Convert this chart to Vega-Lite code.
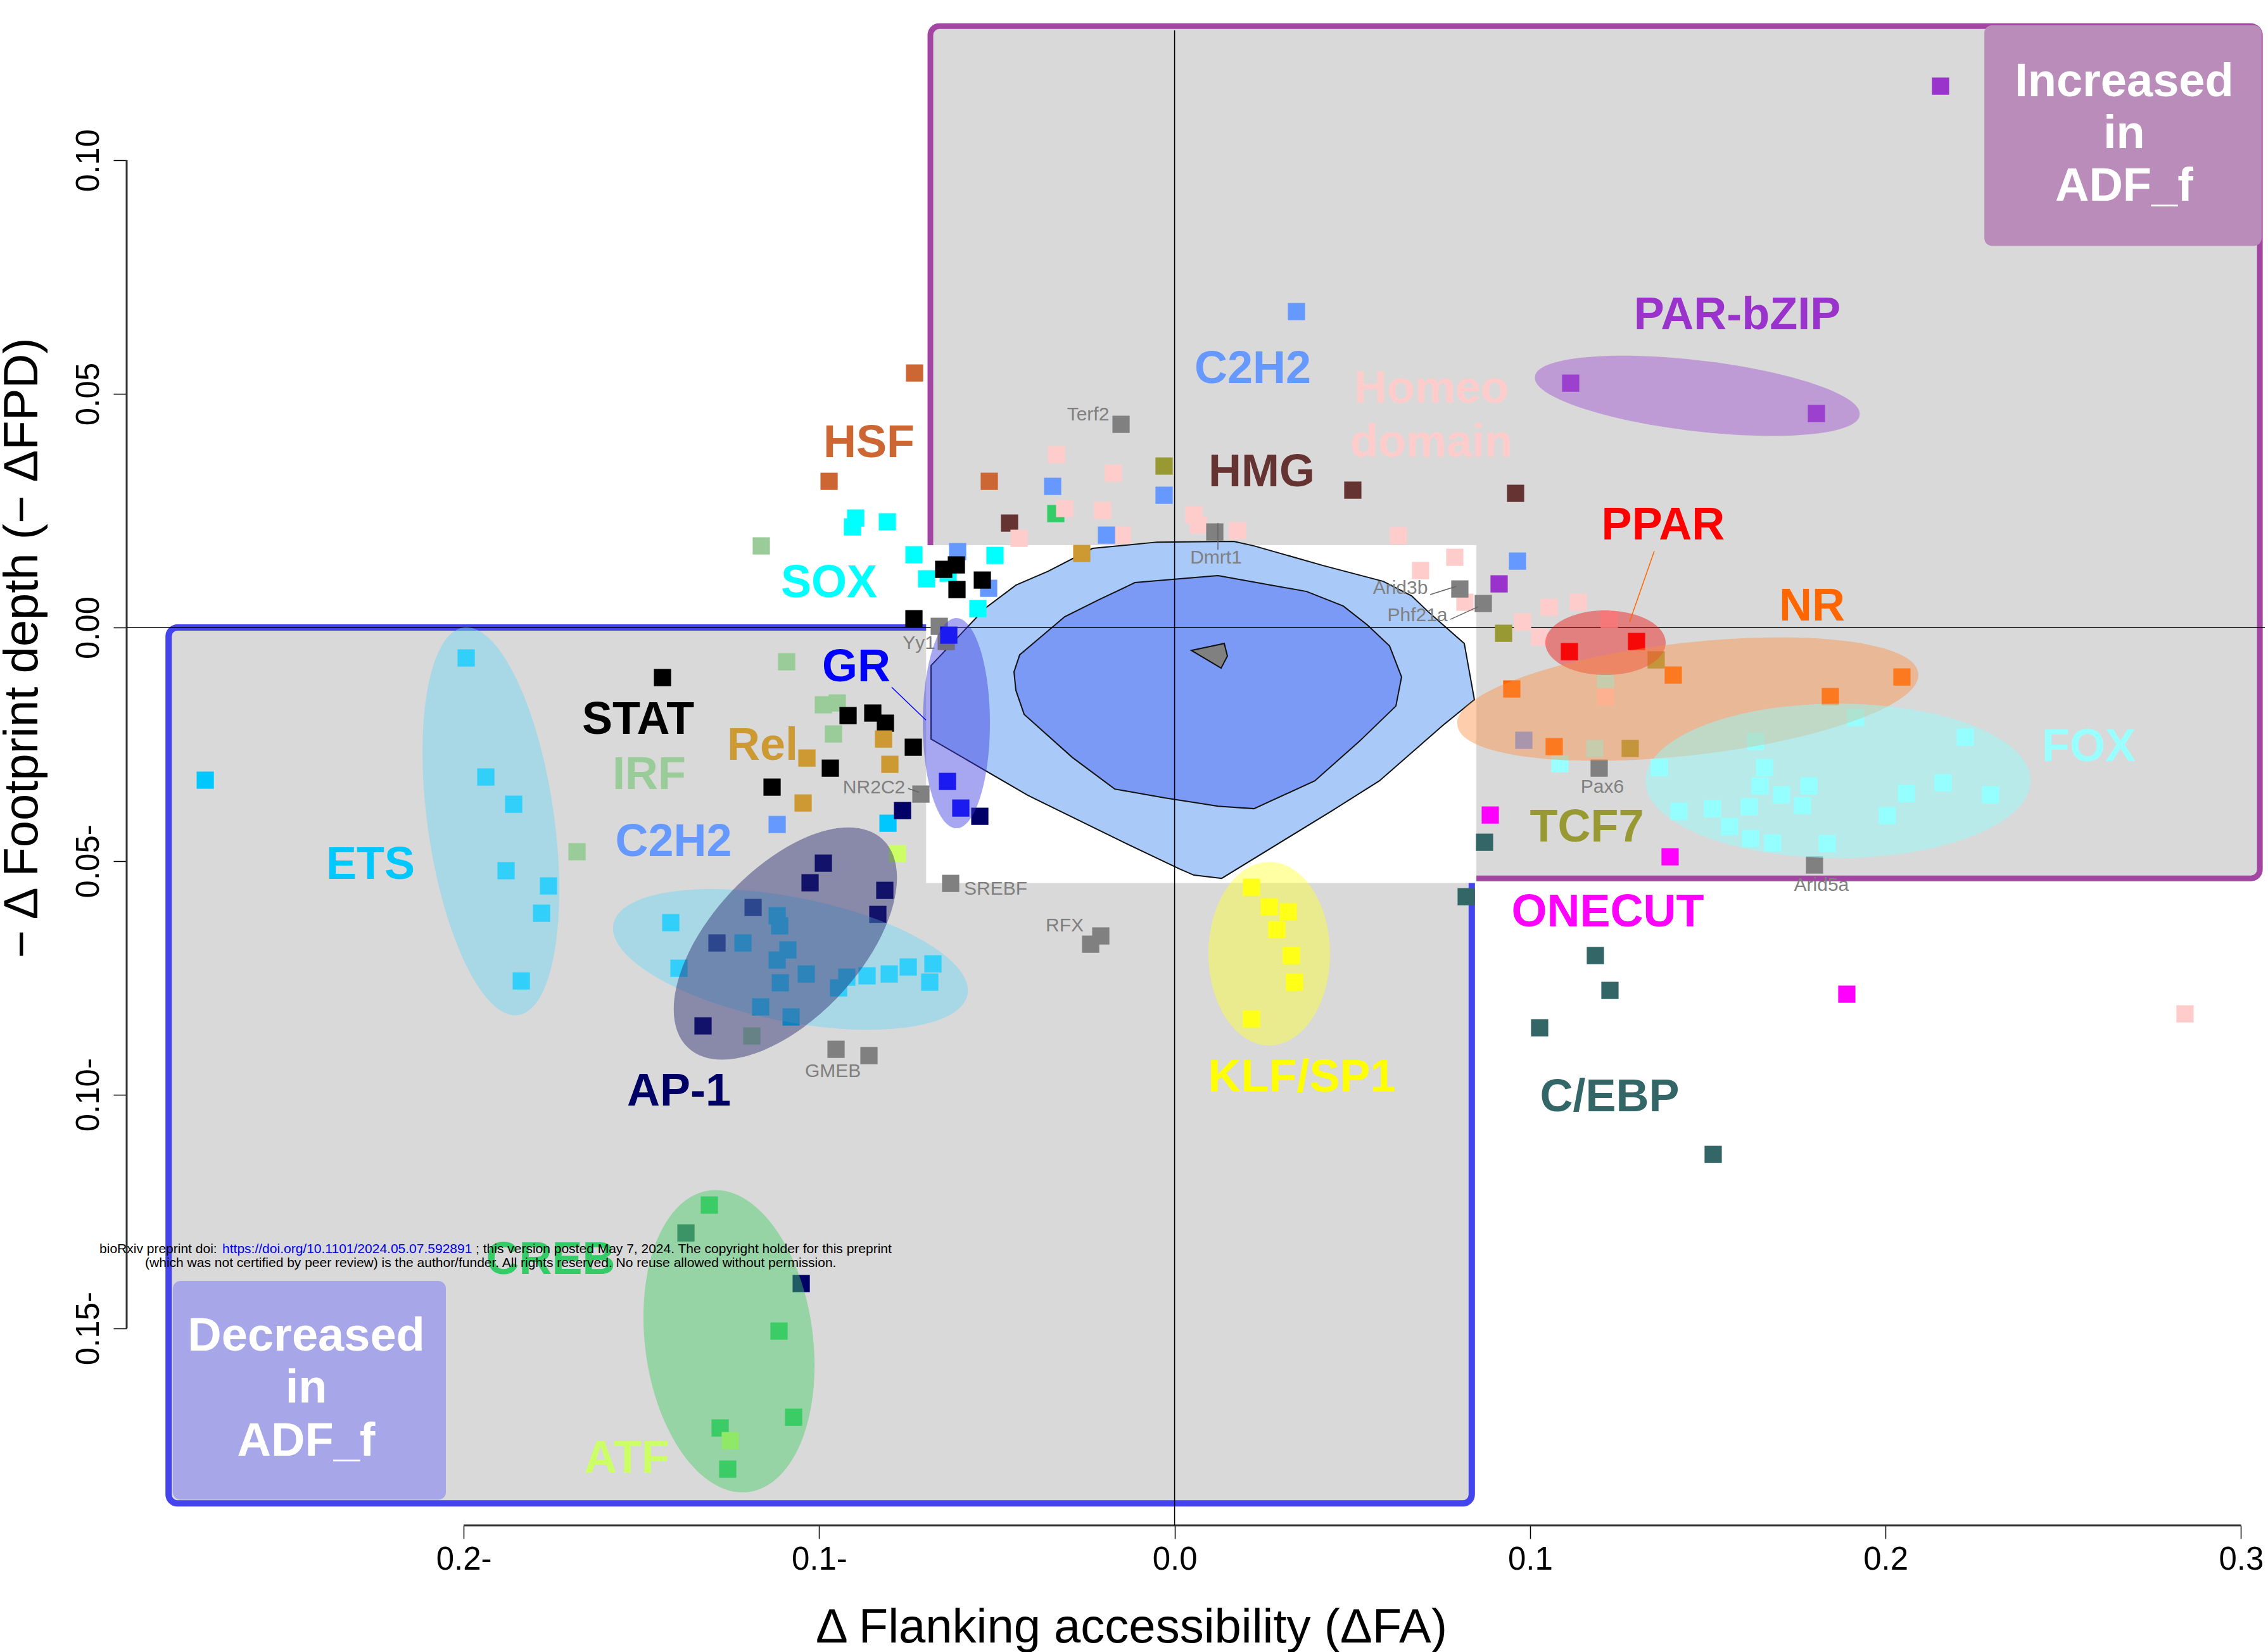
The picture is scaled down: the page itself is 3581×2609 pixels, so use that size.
{
"$schema": "https://vega.github.io/schema/vega-lite/v6.json",
"width": 3376, "height": 2361,
"autosize": {"type": "none"},
"padding": {"left": 200, "top": 48, "right": 5, "bottom": 200},
"background": "white",
"config": {"view": {"stroke": null}},
"resolve": {"scale": {"color": "independent", "shape": "independent"}},
"datasets": {
"regions": [
 {"region":"decreased","x":-0.2830,"x2":0.0836,"y":0.0,"y2":-0.1875},
 {"region":"increased","x":-0.0687,"x2":0.3053,"y":0.1287,"y2":-0.0537},
 {"region":"increased_tag","x":0.2278,"x2":0.3058,"y":0.1289,"y2":0.0817},
 {"region":"decreased_tag","x":-0.2818,"x2":-0.2050,"y":-0.1399,"y2":-0.1867},
 {"region":"center","x":-0.0699,"x2":0.0849,"y":0.0176,"y2":-0.0547}
],
"axislines": [
 {"x":-0.2,"x2":0.3,"y":-0.1922,"y2":-0.1922},
 {"x":-0.2948,"x2":-0.2948,"y":-0.15,"y2":0.10}
],
"zero": [{"x":0,"y":0}],
"contours": [
 {"poly":"outer","i":1,"x":-0.06852,"y":-0.00816},{"poly":"outer","i":2,"x":-0.05320,"y":0.00417},{"poly":"outer","i":3,"x":-0.04465,"y":0.00905},{"poly":"outer","i":4,"x":-0.03556,"y":0.01204},{"poly":"outer","i":5,"x":-0.02309,"y":0.01692},{"poly":"outer","i":6,"x":-0.00492,"y":0.01827},{"poly":"outer","i":7,"x":0.01664,"y":0.01841},{"poly":"outer","i":8,"x":0.02234,"y":0.01746},{"poly":"outer","i":9,"x":0.04176,"y":0.01326},{"poly":"outer","i":10,"x":0.05869,"y":0.00987},{"poly":"outer","i":11,"x":0.06670,"y":0.00675},{"poly":"outer","i":12,"x":0.07134,"y":0.00336},{"poly":"outer","i":13,"x":0.08149,"y":-0.00342},{"poly":"outer","i":14,"x":0.08434,"y":-0.01548},{"poly":"outer","i":15,"x":0.07579,"y":-0.02076},{"poly":"outer","i":16,"x":0.05762,"y":-0.03283},{"poly":"outer","i":17,"x":0.04408,"y":-0.03933},{"poly":"outer","i":18,"x":0.01326,"y":-0.05370},{"poly":"outer","i":19,"x":0.00542,"y":-0.05302},{"poly":"outer","i":20,"x":0.00132,"y":-0.05167},{"poly":"outer","i":21,"x":-0.01400,"y":-0.04611},{"poly":"outer","i":22,"x":-0.04126,"y":-0.03595},{"poly":"outer","i":23,"x":-0.06852,"y":-0.02388},
 {"poly":"inner","i":1,"x":-0.04518,"y":-0.00951},{"poly":"inner","i":2,"x":-0.04358,"y":-0.00586},{"poly":"inner","i":3,"x":-0.03093,"y":0.00228},{"poly":"inner","i":4,"x":-0.02131,"y":0.00594},{"poly":"inner","i":5,"x":-0.01115,"y":0.00960},{"poly":"inner","i":6,"x":0.01219,"y":0.01109},{"poly":"inner","i":7,"x":0.03713,"y":0.00770},{"poly":"inner","i":8,"x":0.04746,"y":0.00458},{"poly":"inner","i":9,"x":0.05423,"y":0.00052},{"poly":"inner","i":10,"x":0.06047,"y":-0.00396},{"poly":"inner","i":11,"x":0.06385,"y":-0.01060},{"poly":"inner","i":12,"x":0.06225,"y":-0.01683},{"poly":"inner","i":13,"x":0.05192,"y":-0.02442},{"poly":"inner","i":14,"x":0.03944,"y":-0.03283},{"poly":"inner","i":15,"x":0.02234,"y":-0.03879},{"poly":"inner","i":16,"x":0.01219,"y":-0.03825},{"poly":"inner","i":17,"x":-0.00260,"y":-0.03649},{"poly":"inner","i":18,"x":-0.01685,"y":-0.03459},{"poly":"inner","i":19,"x":-0.02879,"y":-0.02781},{"poly":"inner","i":20,"x":-0.04233,"y":-0.01860},{"poly":"inner","i":21,"x":-0.04465,"y":-0.01345},
 {"poly":"mode","i":1,"x":0.00470,"y":-0.00491},{"poly":"mode","i":2,"x":0.01397,"y":-0.00342},{"poly":"mode","i":3,"x":0.01486,"y":-0.00613},{"poly":"mode","i":4,"x":0.01308,"y":-0.00870}
],
"points": [
 {"family":"ETS","x":-0.27269,"y":-0.03269},{"family":"ETS","x":-0.19929,"y":-0.00653},{"family":"ETS","x":-0.19377,"y":-0.03201},{"family":"ETS","x":-0.18593,"y":-0.03784},{"family":"ETS","x":-0.18807,"y":-0.05207},{"family":"ETS","x":-0.17613,"y":-0.05533},{"family":"ETS","x":-0.17809,"y":-0.06116},{"family":"ETS","x":-0.18379,"y":-0.07566},{"family":"ETS","x":-0.08063,"y":-0.04191},{"family":"ETS","x":-0.14174,"y":-0.06319},{"family":"ETS","x":-0.11181,"y":-0.06170},{"family":"ETS","x":-0.11110,"y":-0.06387},{"family":"ETS","x":-0.12143,"y":-0.06753},{"family":"ETS","x":-0.10878,"y":-0.06902},{"family":"ETS","x":-0.11181,"y":-0.07119},{"family":"ETS","x":-0.13943,"y":-0.07295},{"family":"ETS","x":-0.10362,"y":-0.07417},{"family":"ETS","x":-0.09222,"y":-0.07485},{"family":"ETS","x":-0.08652,"y":-0.07457},{"family":"ETS","x":-0.08028,"y":-0.07417},{"family":"ETS","x":-0.07493,"y":-0.07268},{"family":"ETS","x":-0.06799,"y":-0.07200},{"family":"ETS","x":-0.06888,"y":-0.07593},{"family":"ETS","x":-0.09453,"y":-0.07715},{"family":"ETS","x":-0.11092,"y":-0.07606},{"family":"ETS","x":-0.11644,"y":-0.08122},{"family":"ETS","x":-0.10789,"y":-0.08338},
 {"family":"FOX","x":0.19159,"y":-0.01927},{"family":"FOX","x":0.16344,"y":-0.02442},{"family":"FOX","x":0.22241,"y":-0.02348},{"family":"FOX","x":0.10839,"y":-0.02917},{"family":"FOX","x":0.13636,"y":-0.02998},{"family":"FOX","x":0.16594,"y":-0.02998},{"family":"FOX","x":0.17841,"y":-0.03391},{"family":"FOX","x":0.16469,"y":-0.03391},{"family":"FOX","x":0.17075,"y":-0.03581},{"family":"FOX","x":0.20585,"y":-0.03554},{"family":"FOX","x":0.21618,"y":-0.03323},{"family":"FOX","x":0.22954,"y":-0.03581},{"family":"FOX","x":0.17663,"y":-0.03811},{"family":"FOX","x":0.16166,"y":-0.03839},{"family":"FOX","x":0.15133,"y":-0.03879},{"family":"FOX","x":0.14189,"y":-0.03933},{"family":"FOX","x":0.20050,"y":-0.04028},{"family":"FOX","x":0.15614,"y":-0.04259},{"family":"FOX","x":0.16202,"y":-0.04516},{"family":"FOX","x":0.16825,"y":-0.04611},{"family":"FOX","x":0.18358,"y":-0.04625},{"family":"FOX","x":0.12122,"y":-0.01155},{"family":"FOX","x":0.11819,"y":-0.02592},
 {"family":"HSF","x":-0.07315,"y":0.05446},{"family":"HSF","x":-0.09720,"y":0.03128},{"family":"HSF","x":-0.05213,"y":0.03128},
 {"family":"CREB","x":-0.03342,"y":0.02437},
 {"family":"HMG","x":0.05013,"y":0.02939},{"family":"HMG","x":0.09592,"y":0.02871},{"family":"HMG","x":-0.04643,"y":0.02234},
 {"family":"Homeo domain","x":-0.03324,"y":0.03698},{"family":"Homeo domain","x":-0.01721,"y":0.03304},{"family":"Homeo domain","x":-0.03093,"y":0.02545},{"family":"Homeo domain","x":-0.02024,"y":0.02505},{"family":"Homeo domain","x":-0.04376,"y":0.01908},{"family":"Homeo domain","x":-0.01472,"y":0.01976},{"family":"Homeo domain","x":0.00542,"y":0.02410},{"family":"Homeo domain","x":0.00666,"y":0.02193},{"family":"Homeo domain","x":0.01771,"y":0.02071},{"family":"Homeo domain","x":0.06296,"y":0.01963},{"family":"Homeo domain","x":0.07882,"y":0.01502},{"family":"Homeo domain","x":0.06920,"y":0.01217},{"family":"Homeo domain","x":0.08167,"y":0.00539},{"family":"Homeo domain","x":0.10536,"y":0.00431},{"family":"Homeo domain","x":0.11356,"y":0.00539},{"family":"Homeo domain","x":0.09788,"y":0.00119},{"family":"Homeo domain","x":0.10269,"y":-0.00206},{"family":"Homeo domain","x":0.12229,"y":0.00173},{"family":"Homeo domain","x":0.12122,"y":-0.01480},{"family":"Homeo domain","x":0.28424,"y":-0.08271},
 {"family":"C2H2","x":0.03428,"y":0.06761},{"family":"C2H2","x":-0.03431,"y":0.03020},{"family":"C2H2","x":-0.00296,"y":0.02830},{"family":"C2H2","x":-0.01917,"y":0.01976},{"family":"C2H2","x":-0.06104,"y":0.01624},{"family":"C2H2","x":-0.05231,"y":0.00838},{"family":"C2H2","x":0.09646,"y":0.01420},{"family":"C2H2","x":-0.11181,"y":-0.04218},{"family":"C2H2","x":0.09824,"y":-0.02415},
 {"family":"TCF7","x":-0.00296,"y":0.03454},{"family":"TCF7","x":-0.06424,"y":-0.00301},{"family":"TCF7","x":0.09254,"y":-0.00125},{"family":"TCF7","x":0.13547,"y":-0.00694},{"family":"TCF7","x":0.12817,"y":-0.02592},
 {"family":"NR","x":0.09485,"y":-0.01317},{"family":"NR","x":0.14028,"y":-0.01019},{"family":"NR","x":0.18447,"y":-0.01480},{"family":"NR","x":0.20460,"y":-0.01060},{"family":"NR","x":0.10679,"y":-0.02551},
 {"family":"PPAR","x":0.11106,"y":-0.00518},{"family":"PPAR","x":0.12995,"y":-0.00301},
 {"family":"PAR-bZIP","x":0.21547,"y":0.11586},{"family":"PAR-bZIP","x":0.11142,"y":0.05229},{"family":"PAR-bZIP","x":0.18055,"y":0.04579},{"family":"PAR-bZIP","x":0.09129,"y":0.00933},
 {"family":"ONECUT","x":0.08880,"y":-0.04015},{"family":"ONECUT","x":0.13939,"y":-0.04909},{"family":"ONECUT","x":0.18910,"y":-0.07850},
 {"family":"C/EBP","x":0.08719,"y":-0.04598},{"family":"C/EBP","x":0.08203,"y":-0.05763},{"family":"C/EBP","x":0.11837,"y":-0.07024},{"family":"C/EBP","x":0.12247,"y":-0.07769},{"family":"C/EBP","x":0.10269,"y":-0.08569},{"family":"C/EBP","x":0.15151,"y":-0.11280},{"family":"C/EBP","x":-0.13747,"y":-0.12960},
 {"family":"Other","x":-0.01507,"y":0.04348},{"family":"Other","x":0.01130,"y":0.02044},{"family":"Other","x":0.08024,"y":0.00824},{"family":"Other","x":0.08684,"y":0.00512},{"family":"Other","x":-0.06620,"y":0.00024},{"family":"Other","x":-0.07137,"y":-0.03567},{"family":"Other","x":-0.06300,"y":-0.05479},{"family":"Other","x":-0.02362,"y":-0.06780},{"family":"Other","x":-0.02077,"y":-0.06603},{"family":"Other","x":-0.09524,"y":-0.09030},{"family":"Other","x":-0.08598,"y":-0.09165},{"family":"Other","x":0.11944,"y":-0.03012},{"family":"Other","x":0.18001,"y":-0.05085},
 {"family":"CREB","x":-0.13088,"y":-0.12364},{"family":"CREB","x":-0.11128,"y":-0.15061},{"family":"CREB","x":-0.10718,"y":-0.16905},{"family":"CREB","x":-0.12785,"y":-0.17135},{"family":"CREB","x":-0.12571,"y":-0.18016},
 {"family":"ATF","x":-0.12500,"y":-0.17406},{"family":"ATF","x":-0.07796,"y":-0.04841},
 {"family":"KLF/SP1","x":0.02163,"y":-0.05560},{"family":"KLF/SP1","x":0.02662,"y":-0.05980},{"family":"KLF/SP1","x":0.03196,"y":-0.06088},{"family":"KLF/SP1","x":0.02876,"y":-0.06468},{"family":"KLF/SP1","x":0.03285,"y":-0.07024},{"family":"KLF/SP1","x":0.03374,"y":-0.07593},{"family":"KLF/SP1","x":0.02163,"y":-0.08379},
 {"family":"IRF","x":-0.11627,"y":0.01746},{"family":"IRF","x":-0.10914,"y":-0.00735},{"family":"IRF","x":-0.09881,"y":-0.01656},{"family":"IRF","x":-0.09489,"y":-0.01616},{"family":"IRF","x":-0.09596,"y":-0.02280},{"family":"IRF","x":-0.16811,"y":-0.04801},{"family":"IRF","x":-0.11894,"y":-0.08745},
 {"family":"SOX","x":-0.08972,"y":0.02342},{"family":"SOX","x":-0.09061,"y":0.02152},{"family":"SOX","x":-0.08081,"y":0.02261},{"family":"SOX","x":-0.07333,"y":0.01556},{"family":"SOX","x":-0.05053,"y":0.01542},{"family":"SOX","x":-0.06977,"y":0.01041},{"family":"SOX","x":-0.06371,"y":0.01163},{"family":"SOX","x":-0.05534,"y":0.00404},
 {"family":"STAT","x":-0.14406,"y":-0.01073},{"family":"STAT","x":-0.07333,"y":0.00187},{"family":"STAT","x":-0.06139,"y":0.01339},{"family":"STAT","x":-0.06496,"y":0.01244},{"family":"STAT","x":-0.05409,"y":0.01014},{"family":"STAT","x":-0.06122,"y":0.00811},{"family":"STAT","x":-0.09186,"y":-0.01887},{"family":"STAT","x":-0.08491,"y":-0.01832},{"family":"STAT","x":-0.08135,"y":-0.02049},{"family":"STAT","x":-0.07351,"y":-0.02564},{"family":"STAT","x":-0.09685,"y":-0.03012},{"family":"STAT","x":-0.11324,"y":-0.03418},
 {"family":"Rel","x":-0.02612,"y":0.01583},{"family":"Rel","x":-0.08188,"y":-0.02388},{"family":"Rel","x":-0.10344,"y":-0.02795},{"family":"Rel","x":-0.08010,"y":-0.02930},{"family":"Rel","x":-0.10451,"y":-0.03757},
 {"family":"GR","x":-0.06353,"y":-0.00165},{"family":"GR","x":-0.06389,"y":-0.03296},{"family":"GR","x":-0.06015,"y":-0.03866},
 {"family":"AP-1","x":-0.09881,"y":-0.05045},{"family":"AP-1","x":-0.10255,"y":-0.05465},{"family":"AP-1","x":-0.08153,"y":-0.05628},{"family":"AP-1","x":-0.08349,"y":-0.06143},{"family":"AP-1","x":-0.11858,"y":-0.05994},{"family":"AP-1","x":-0.12874,"y":-0.06753},{"family":"AP-1","x":-0.13266,"y":-0.08528},{"family":"AP-1","x":-0.07654,"y":-0.03920},{"family":"AP-1","x":-0.05480,"y":-0.04042},{"family":"AP-1","x":-0.10504,"y":-0.14045}
],
"ellipses": [
 {"group":"ETS1","x":-0.19234,"y":-0.04150},
 {"group":"ETS2","x":-0.10807,"y":-0.07105},
 {"group":"AP1","x":-0.10950,"y":-0.06766},
 {"group":"GR","x":-0.06139,"y":-0.02049},
 {"group":"KLF","x":0.02662,"y":-0.06983},
 {"group":"CREB","x":-0.12535,"y":-0.15278},
 {"group":"PARbZIP","x":0.14705,"y":0.04958},
 {"group":"PPAR","x":0.12122,"y":-0.00328},
 {"group":"NR","x":0.14438,"y":-0.01534},
 {"group":"FOX","x":0.18661,"y":-0.03283}
],
"familyLabels": [
 {"label":"PAR-bZIP","family":"PAR-bZIP","x":0.15828,"y":0.06679},
 {"label":"C2H2","family":"C2H2","x":0.02198,"y":0.05527},
 {"label":"Homeo","family":"Homeo domain","x":0.07223,"y":0.05107},
 {"label":"domain","family":"Homeo domain","x":0.07223,"y":0.03958},
 {"label":"HSF","family":"HSF","x":-0.08598,"y":0.03948},
 {"label":"HMG","family":"HMG","x":0.02448,"y":0.03325},
 {"label":"PPAR","family":"PPAR","x":0.13743,"y":0.02186},
 {"label":"SOX","family":"SOX","x":-0.09720,"y":0.00946},
 {"label":"NR","family":"NR","x":0.17930,"y":0.00451},
 {"label":"GR","family":"GR","x":-0.08954,"y":-0.00857},
 {"label":"STAT","family":"STAT","x":-0.15092,"y":-0.01982},
 {"label":"Rel","family":"Rel","x":-0.11591,"y":-0.02531},
 {"label":"IRF","family":"IRF","x":-0.14780,"y":-0.03154},
 {"label":"C2H2","family":"C2H2","x":-0.14094,"y":-0.04591},
 {"label":"ETS","family":"ETS","x":-0.22619,"y":-0.05085},
 {"label":"AP-1","family":"AP-1","x":-0.13943,"y":-0.09938},
 {"label":"FOX","family":"FOX","x":0.25716,"y":-0.02564},
 {"label":"TCF7","family":"TCF7","x":0.11597,"y":-0.04286},
 {"label":"ONECUT","family":"ONECUT","x":0.12184,"y":-0.06102},
 {"label":"KLF/SP1","family":"KLF/SP1","x":0.03579,"y":-0.09640},
 {"label":"C/EBP","family":"C/EBP","x":0.12238,"y":-0.10060},
 {"label":"CREB","family":"CREB","x":-0.17550,"y":-0.13536},
 {"label":"ATF","family":"ATF","x":-0.15413,"y":-0.17792}
],
"tagText": [
 {"text":"Increased","x":0.26713,"y":0.11667},
 {"text":"in","x":0.26713,"y":0.10556},
 {"text":"ADF_f","x":0.26713,"y":0.09431},
 {"text":"Decreased","x":-0.24428,"y":-0.15183},
 {"text":"in","x":-0.24428,"y":-0.16295},
 {"text":"ADF_f","x":-0.24428,"y":-0.17433}
],
"motifLabels": [
 {"text":"Terf2","x":-0.02434,"y":0.04551},
 {"text":"Dmrt1","x":0.01165,"y":0.01488},
 {"text":"Arid3b","x":0.06350,"y":0.00838},
 {"text":"Phf21a","x":0.06831,"y":0.00255},
 {"text":"Yy1","x":-0.07190,"y":-0.00342},
 {"text":"NR2C2","x":-0.08455,"y":-0.03432},
 {"text":"SREBF","x":-0.05035,"y":-0.05600},
 {"text":"RFX","x":-0.03093,"y":-0.06387},
 {"text":"GMEB","x":-0.09613,"y":-0.09504},
 {"text":"Pax6","x":0.12033,"y":-0.03418},
 {"text":"Arid5a","x":0.18197,"y":-0.05519}
],
"leaders": [
 {"kind":"motif","x":0.01219,"x2":0.01219,"y":0.02236,"y2":0.01664},
 {"kind":"motif","x":0.07190,"x2":0.07920,"y":0.00703,"y2":0.00879},
 {"kind":"motif","x":0.07759,"x2":0.08543,"y":0.00173,"y2":0.00444},
 {"kind":"motif","x":-0.07495,"x2":-0.07192,"y":-0.03447,"y2":-0.03528},
 {"kind":"GR","x":-0.07960,"x2":-0.06996,"y":-0.01279,"y2":-0.01983},
 {"kind":"PPAR","x":0.13494,"x2":0.12799,"y":0.01635,"y2":0.00119}
],
"watermark": [
 {"part":"plain","text":"bioRxiv preprint doi: ","x":-0.30245,"y":-0.13394},
 {"part":"link","text":"https://doi.org/10.1101/2024.05.07.592891","x":-0.26788,"y":-0.13394},
 {"part":"plain","text":"; this version posted May 7, 2024. The copyright holder for this preprint","x":-0.19662,"y":-0.13394},
 {"part":"plain","text":"(which was not certified by peer review) is the author/funder. All rights reserved. No reuse allowed without permission.","x":-0.28962,"y":-0.13692}
]
},
"layer": [
 {"data":{"name":"regions"},"transform":[{"filter":"datum.region === 'decreased'"}],
  "mark":{"type":"rect","fill":"#d9d9d9","stroke":"#4444ee","strokeWidth":10,"cornerRadius":14},
  "encoding":{
   "x":{"field":"x","type":"quantitative","scale":{"domain":[-0.2948,0.3067],"nice":false,"zero":false},
    "axis":{"values":[-0.2,-0.1,0,0.1,0.2,0.3],"domain":false,"grid":false,"ticks":true,"tickSize":21,"tickWidth":1.5,"tickColor":"#000",
     "labelExpr":"datum.value < 0 ? format(-datum.value, '.1f') + '-' : format(datum.value, '.1f')",
     "labelFont":"Liberation Sans Narrow, Liberation Sans","labelFontSize":51,"labelColor":"#000","labelPadding":8,"labelBaseline":"top","labelAlign":"center","labelFlush":false,"labelOverlap":false,
     "title":"Δ Flanking accessibility (ΔFA)","titleFont":"Liberation Sans","titleFontSize":76,"titleFontWeight":"normal","titleColor":"#000","titleX":1586,"titleY":184,"titleBaseline":"alphabetic","titleAlign":"center","titleAnchor":null}},
   "x2":{"field":"x2"},
   "y":{"field":"y","type":"quantitative","scale":{"domain":[-0.1922,0.1278],"nice":false,"zero":false},
    "axis":{"values":[-0.15,-0.1,-0.05,0,0.05,0.1],"domain":false,"grid":false,"ticks":true,"tickSize":21,"tickWidth":1.5,"tickColor":"#000",
     "labelExpr":"datum.value < 0 ? format(-datum.value, '.2f') + '-' : format(datum.value, '.2f')",
     "labelFont":"Liberation Sans Narrow, Liberation Sans","labelFontSize":51,"labelColor":"#000","labelAngle":270,"labelAlign":"center","labelBaseline":"alphabetic","labelPadding":24,"labelFlush":false,"labelOverlap":false,
     "title":"− Δ Footprint depth (− ΔFPD)","titleFont":"Liberation Sans","titleFontSize":76,"titleFontWeight":"normal","titleColor":"#000","titleAngle":270,"titleX":-142,"titleY":975,"titleBaseline":"alphabetic","titleAlign":"center","titleAnchor":null}},
   "y2":{"field":"y2"}}},
 {"data":{"name":"regions"},"transform":[{"filter":"datum.region === 'increased'"}],
  "mark":{"type":"rect","fill":"#d9d9d9","stroke":"#a346a3","strokeWidth":9,"cornerRadius":14},
  "encoding":{"x":{"field":"x","type":"quantitative"},"x2":{"field":"x2"},"y":{"field":"y","type":"quantitative"},"y2":{"field":"y2"}}},
 {"data":{"name":"regions"},"transform":[{"filter":"datum.region === 'increased_tag'"}],
  "mark":{"type":"rect","fill":"#b98cba","cornerRadius":12},
  "encoding":{"x":{"field":"x","type":"quantitative"},"x2":{"field":"x2"},"y":{"field":"y","type":"quantitative"},"y2":{"field":"y2"}}},
 {"data":{"name":"regions"},"transform":[{"filter":"datum.region === 'decreased_tag'"}],
  "mark":{"type":"rect","fill":"#a6a6e8","cornerRadius":12},
  "encoding":{"x":{"field":"x","type":"quantitative"},"x2":{"field":"x2"},"y":{"field":"y","type":"quantitative"},"y2":{"field":"y2"}}},
 {"data":{"name":"regions"},"transform":[{"filter":"datum.region === 'center'"}],
  "mark":{"type":"rect","fill":"#ffffff"},
  "encoding":{"x":{"field":"x","type":"quantitative"},"x2":{"field":"x2"},"y":{"field":"y","type":"quantitative"},"y2":{"field":"y2"}}},
 {"data":{"name":"axislines"},
  "mark":{"type":"rule","stroke":"#333333","strokeWidth":3},
  "encoding":{"x":{"field":"x","type":"quantitative"},"x2":{"field":"x2"},"y":{"field":"y","type":"quantitative"},"y2":{"field":"y2"}}},
 {"data":{"name":"contours"},"transform":[{"filter":"datum.poly === 'outer'"}],
  "mark":{"type":"line","fill":"#a9c9f9","stroke":"#111111","strokeWidth":2,"interpolate":"linear-closed"},
  "encoding":{"x":{"field":"x","type":"quantitative"},"y":{"field":"y","type":"quantitative"},"order":{"field":"i","type":"quantitative"}}},
 {"data":{"name":"contours"},"transform":[{"filter":"datum.poly === 'inner'"}],
  "mark":{"type":"line","fill":"#7a9af6","stroke":"#111111","strokeWidth":2,"interpolate":"linear-closed"},
  "encoding":{"x":{"field":"x","type":"quantitative"},"y":{"field":"y","type":"quantitative"},"order":{"field":"i","type":"quantitative"}}},
 {"data":{"name":"contours"},"transform":[{"filter":"datum.poly === 'mode'"}],
  "mark":{"type":"line","fill":"#808080","stroke":"#111111","strokeWidth":2,"interpolate":"linear-closed"},
  "encoding":{"x":{"field":"x","type":"quantitative"},"y":{"field":"y","type":"quantitative"},"order":{"field":"i","type":"quantitative"}}},
 {"data":{"name":"zero"},
  "mark":{"type":"rule","stroke":"#000000","strokeWidth":1.5},
  "encoding":{"x":{"field":"x","type":"quantitative"}}},
 {"data":{"name":"zero"},
  "mark":{"type":"rule","stroke":"#000000","strokeWidth":1.5},
  "encoding":{"y":{"field":"y","type":"quantitative"}}},
 {"data":{"name":"points"},
  "mark":{"type":"point","shape":"square","filled":true,"size":740,"opacity":1},
  "encoding":{"x":{"field":"x","type":"quantitative"},"y":{"field":"y","type":"quantitative"},
   "color":{"field":"family","type":"nominal","legend":null,
    "scale":{"domain":["ETS","SOX","FOX","HSF","STAT","IRF","Rel","C2H2","GR","AP-1","CREB","ATF","KLF/SP1","C/EBP","ONECUT","TCF7","NR","PPAR","PAR-bZIP","HMG","Homeo domain","Other"],
     "range":["#00c8ff","#00ffff","#99ffff","#cc6633","#000000","#99cc99","#cc9933","#6699ff","#0000ff","#000066","#33cc66","#ccff66","#ffff00","#336666","#ff00ff","#999933","#ff6600","#ff0000","#9933cc","#663333","#ffcccc","#808080"]}}}},
 {"data":{"name":"ellipses"},
  "mark":{"type":"point","filled":true,"size":4,"opacity":0.45,"strokeWidth":0},
  "encoding":{"x":{"field":"x","type":"quantitative"},"y":{"field":"y","type":"quantitative"},
   "shape":{"field":"group","type":"nominal","legend":null,
    "scale":{"domain":["ETS1","ETS2","AP1","GR","KLF","CREB","PARbZIP","PPAR","NR","FOX"],
     "range":["M43,306A309,100,82,1,1,-43,-306A309,100,82,1,1,43,306Z",
              "M279.5,55.8A285,98,11.3,1,1,-279.5,-55.8A285,98,11.3,1,1,279.5,55.8Z",
              "M153.4,-164.6A225,118,-47,1,1,-153.4,164.6A225,118,-47,1,1,153.4,-164.6Z",
              "M0,166A53,166,0,1,1,0,-166A53,166,0,1,1,0,166Z",
              "M0,145A96,145,0,1,1,0,-145A96,145,0,1,1,0,145Z",
              "M30.9,238A240,132,82.6,1,1,-30.9,-238A240,132,82.6,1,1,30.9,238Z",
              "M256.2,30.1A258,55,6.7,1,1,-256.2,-30.1A258,55,6.7,1,1,256.2,30.1Z",
              "M95,0A95,51,0,1,1,-95,0A95,51,0,1,1,95,0Z",
              "M363.7,-40.8A366,88,-6.4,1,1,-363.7,40.8A366,88,-6.4,1,1,363.7,-40.8Z",
              "M304,0A304,122,0,1,1,-304,0A304,122,0,1,1,304,0Z"]}},
   "color":{"field":"group","type":"nominal","legend":null,
    "scale":{"domain":["ETS1","ETS2","AP1","GR","KLF","CREB","PARbZIP","PPAR","NR","FOX"],
     "range":["#6cd6f4","#6cd6f4","#28286e","#3c3ce0","#ffff33","#44cc66","#a050d0","#ee1111","#fa9048","#90ffff"]}}}},
 {"data":{"name":"leaders"},
  "mark":{"type":"rule","strokeWidth":1.5},
  "encoding":{"x":{"field":"x","type":"quantitative"},"x2":{"field":"x2"},"y":{"field":"y","type":"quantitative"},"y2":{"field":"y2"},
   "color":{"field":"kind","type":"nominal","legend":null,"scale":{"domain":["motif","GR","PPAR"],"range":["#666666","#0000ff","#ff6600"]}}}},
 {"data":{"name":"familyLabels"},
  "mark":{"type":"text","font":"Liberation Sans","fontWeight":"bold","fontSize":72,"align":"center","baseline":"middle"},
  "encoding":{"x":{"field":"x","type":"quantitative"},"y":{"field":"y","type":"quantitative"},"text":{"field":"label"},
   "color":{"field":"family","type":"nominal","legend":null,
    "scale":{"domain":["ETS","SOX","FOX","HSF","STAT","IRF","Rel","C2H2","GR","AP-1","CREB","ATF","KLF/SP1","C/EBP","ONECUT","TCF7","NR","PPAR","PAR-bZIP","HMG","Homeo domain","Other"],
     "range":["#00c8ff","#00ffff","#99ffff","#cc6633","#000000","#99cc99","#cc9933","#6699ff","#0000ff","#000066","#33cc66","#ccff66","#ffff00","#336666","#ff00ff","#999933","#ff6600","#ff0000","#9933cc","#663333","#ffcccc","#808080"]}}}},
 {"data":{"name":"tagText"},
  "mark":{"type":"text","font":"Liberation Sans","fontWeight":"bold","fontSize":74,"align":"center","baseline":"middle","fill":"#ffffff"},
  "encoding":{"x":{"field":"x","type":"quantitative"},"y":{"field":"y","type":"quantitative"},"text":{"field":"text"}}},
 {"data":{"name":"motifLabels"},
  "mark":{"type":"text","font":"Liberation Sans","fontSize":30,"align":"center","baseline":"middle","fill":"#808080"},
  "encoding":{"x":{"field":"x","type":"quantitative"},"y":{"field":"y","type":"quantitative"},"text":{"field":"text"}}},
 {"data":{"name":"watermark"},
  "mark":{"type":"text","font":"Liberation Sans","fontSize":21,"align":"left","baseline":"alphabetic"},
  "encoding":{"x":{"field":"x","type":"quantitative"},"y":{"field":"y","type":"quantitative"},"text":{"field":"text"},
   "color":{"field":"part","type":"nominal","legend":null,"scale":{"domain":["plain","link"],"range":["#000000","#0000ee"]}}}}
]
}
